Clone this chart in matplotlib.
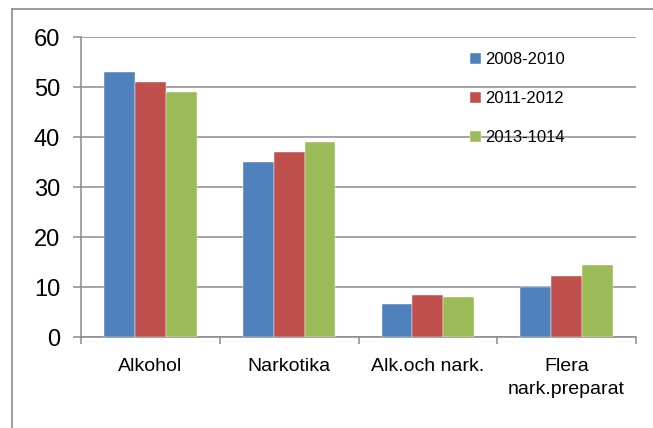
import matplotlib
matplotlib.use("Agg")
import matplotlib.pyplot as plt
import numpy as np
from matplotlib.lines import Line2D

plt.rcParams['font.family'] = ['Liberation Sans', 'DejaVu Sans']

categories = ['Alkohol', 'Narkotika', 'Alk.och nark.', 'Flera\nnark.preparat']
series_names = ['2008-2010', '2011-2012', '2013-1014']
v_2008_2010 = [53, 35, 6.7, 10.1]
v_2011_2012 = [51, 37, 8.5, 12.3]
v_2013_1014 = [49, 39, 8.0, 14.5]
colors = ['#4F81BD', '#C0504D', '#9BBB59']

fig = plt.figure(figsize=(6.53, 4.28), dpi=100)
ax = fig.add_axes([81 / 653, 1 - 337 / 428, 555 / 653, 300 / 428])

# outer frame of the chart area (only left and top visible)
grey = '#8a8a8a'
fig.add_artist(Line2D([12 / 653, 1], [1 - 8.5 / 428, 1 - 8.5 / 428], color=grey, lw=1.2))
fig.add_artist(Line2D([12 / 653, 12 / 653], [0, 1 - 8.5 / 428], color=grey, lw=1.2))

x = np.arange(len(categories))
w = 0.222
for i, (vals, name) in enumerate(zip([v_2008_2010, v_2011_2012, v_2013_1014], series_names)):
    ax.bar(x + (i - 1) * w, vals, w, color=colors[i], label=name,
           edgecolor='white', linewidth=0.3, zorder=3)

ax.set_xlim(-0.5, 3.5)
ax.set_ylim(0, 60)
ax.set_yticks(range(0, 61, 10))
ax.yaxis.grid(True, color=grey, lw=1.1, zorder=0)

for s in ['top', 'right']:
    ax.spines[s].set_visible(False)
for s in ['left', 'bottom']:
    ax.spines[s].set_color(grey)
    ax.spines[s].set_linewidth(1.1)

ax.tick_params(axis='y', length=6, width=1.1, color=grey, pad=9, labelsize=17)
ax.set_xticks(x)
ax.set_xticklabels(categories, fontsize=14, linespacing=1.5)
ax.tick_params(axis='x', which='major', length=0, pad=15)
ax.set_xticks(np.arange(-0.5, 4, 1), minor=True)
ax.tick_params(axis='x', which='minor', length=5, width=1.1, color=grey)

ax.legend(loc='upper left', bbox_to_anchor=(0.701, 0.95), frameon=False,
          fontsize=12, handlelength=0.66, handleheight=0.66,
          handletextpad=0.25, labelspacing=1.45, borderpad=0, borderaxespad=0)

fig.savefig('out.png', dpi=100)
